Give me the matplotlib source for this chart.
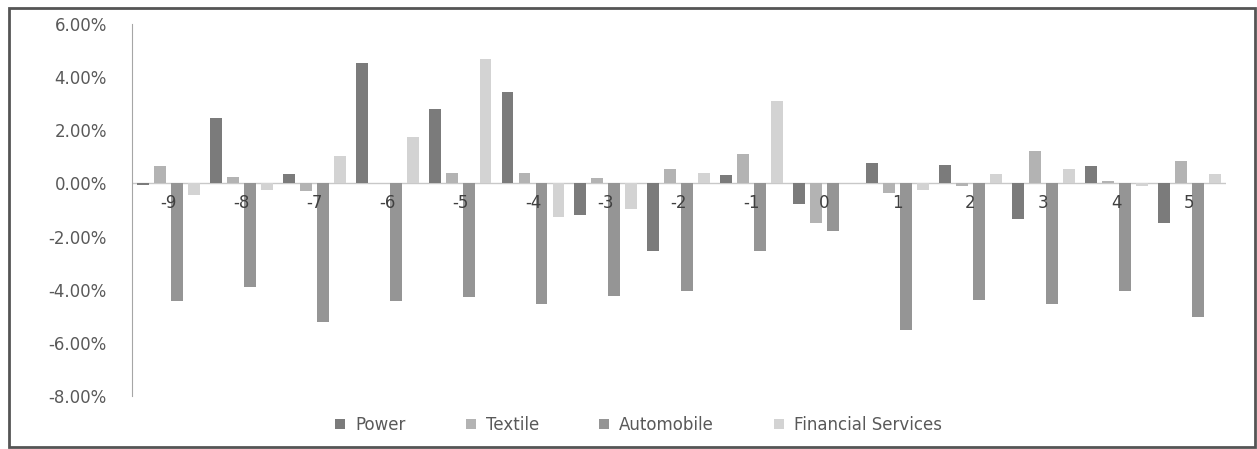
import matplotlib.pyplot as plt
import numpy as np
from matplotlib.patches import Rectangle
from matplotlib.ticker import PercentFormatter

# Dados (retornos em %)
categorias = ["-9", "-8", "-7", "-6", "-5", "-4", "-3", "-2", "-1", "0", "1", "2", "3", "4", "5"]
power = [-0.05, 2.48, 0.37, 4.52, 2.82, 3.43, -1.17, -2.53, 0.30, -0.79, 0.78, 0.68, -1.35, 0.65, -1.50]
textile = [0.65, 0.26, -0.29, 0.0, 0.39, 0.40, 0.21, 0.55, 1.12, -1.50, -0.37, -0.09, 1.22, 0.11, 0.83]
automobile = [-4.42, -3.89, -5.22, -4.44, -4.26, -4.55, -4.23, -4.03, -2.53, -1.80, -5.50, -4.39, -4.55, -4.04, -5.01]
financial = [-0.45, -0.26, 1.04, 1.75, 4.67, -1.27, -0.96, 0.40, 3.11, 0.0, -0.26, 0.36, 0.54, -0.10, 0.34]

series = [
    ("Power", power, "#7b7b7b"),
    ("Textile", textile, "#b3b3b3"),
    ("Automobile", automobile, "#959595"),
    ("Financial Services", financial, "#d3d3d3"),
]

plt.rcParams["font.family"] = ["DejaVu Sans"]
plt.rcParams["axes.unicode_minus"] = False

fig = plt.figure(figsize=(12.57, 4.49), dpi=100)
fig.patch.set_facecolor("white")
ax = fig.add_axes([0.105, 0.118, 0.870, 0.8285])

x = np.arange(len(categorias))
slot = 0.932 / 4
largura = slot * 0.70
for j, (nome, valores, cor) in enumerate(series):
    ax.bar(x + (j - 1.5) * slot, np.array(valores) / 100, width=largura,
           color=cor, label=nome, zorder=2)

ax.set_xlim(-0.5, len(categorias) - 0.5)
ax.set_ylim(-0.08, 0.06)
ax.set_yticks(np.arange(-0.08, 0.061, 0.02))
ax.yaxis.set_major_formatter(PercentFormatter(1.0, decimals=2))
ax.tick_params(axis="y", length=0, pad=18, labelsize=12, labelcolor="#595959")
ax.set_xticks([])

for s in ["top", "right", "bottom"]:
    ax.spines[s].set_visible(False)
ax.spines["left"].set_color("#a6a6a6")
ax.axhline(0, color="#c8c8c8", linewidth=1, zorder=1)

# rótulos das categorias logo abaixo do zero
for i, c in enumerate(categorias):
    ax.text(i, -0.0075, c, ha="center", va="center", fontsize=12,
            color="#404040", zorder=5)

fig.legend(loc="lower center", bbox_to_anchor=(0.508, 0.0), ncol=4,
           frameon=False, fontsize=12, labelcolor="#595959",
           handlelength=0.6, handleheight=0.6, columnspacing=3.6,
           handletextpad=0.6)

# moldura externa
fig.patches.append(Rectangle((9 / 1257, 2 / 449), 1246 / 1257, 439 / 449,
                             transform=fig.transFigure, fill=False,
                             edgecolor="#555555", linewidth=2))

fig.savefig("out.png", dpi=100)
